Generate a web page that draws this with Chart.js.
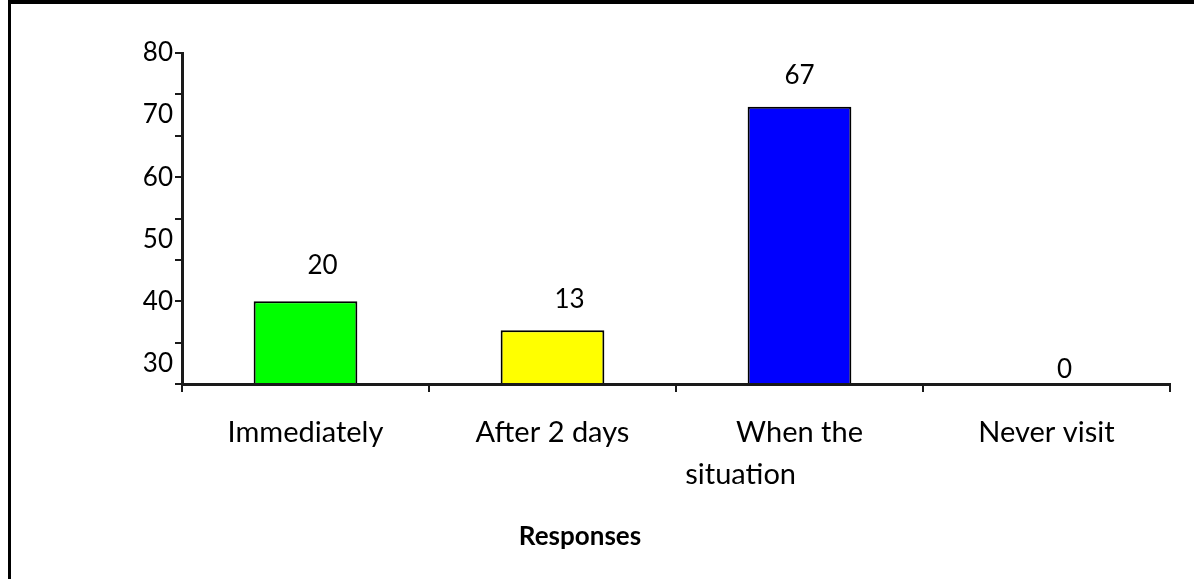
<!DOCTYPE html>
<html>
<head>
<meta charset="utf-8">
<script src="https://cdn.jsdelivr.net/npm/chart.js@4.4.1/dist/chart.umd.min.js"></script>
<style>
  html, body { margin: 0; padding: 0; background: #fff; }
  #wrap { position: absolute; left: 0; top: 0; width: 1194px; height: 579px; }
  #frame { position: absolute; left: 8px; top: 0; width: 1186px; height: 579px;
           border-top: 4px solid #000; border-left: 3px solid #000; box-sizing: border-box; pointer-events: none; }
  canvas { position: absolute; left: 0; top: 0; }
</style>
</head>
<body>
<div id="wrap">
  <canvas id="c" width="1194" height="579"></canvas>
  <div id="frame"></div>
</div>
<script>
const categories = ["Immediately", "After 2 days", ["When the", "situation" + "\u2007".repeat(7)], "Never visit"];
const values = [20, 13, 67, 0];
const barColors = ["#00ff00", "#ffff00", "#0000ff", "#ffffff"];
const yTickLabels = [30, 40, 50, 60, 70, 80];
const xTitle = "Responses";

const textFont = "Lato, 'Open Sans', sans-serif";

const dataLabelPlugin = {
  id: 'dataLabels',
  afterDatasetsDraw(chart, args, opts) {
    const ctx = chart.ctx;
    const meta = chart.getDatasetMeta(0);
    ctx.save();
    ctx.fillStyle = '#000';
    ctx.font = "26px " + textFont;
    ctx.textAlign = 'center';
    ctx.textBaseline = 'middle';
    meta.data.forEach((bar, i) => {
      const off = opts.offsets[i];
      ctx.fillText(String(values[i]), bar.x + off[0], bar.y + off[1]);
    });
    const a = chart.chartArea;
    ctx.font = "bold 26px " + textFont;
    ctx.fillText(xTitle, (a.left + a.right) / 2 - 96, 537);
    ctx.restore();
  }
};

new Chart(document.getElementById('c'), {
  type: 'bar',
  data: {
    labels: categories,
    datasets: [{
      data: values,
      backgroundColor: barColors,
      borderColor: '#000',
      borderWidth: 2,
      borderSkipped: 'bottom',
      barPercentage: 0.42,
      categoryPercentage: 1.0
    }]
  },
  options: {
    responsive: false,
    animation: false,
    devicePixelRatio: 1,
    layout: { padding: { left: 0, right: 24, top: 53, bottom: 0 } },
    plugins: {
      legend: { display: false },
      tooltip: { enabled: false },
      dataLabels: { offsets: [[17, -36], [17, -31], [0, -31], [18, -14]] }
    },
    scales: {
      x: {
        offset: true,
        grid: { display: true, drawOnChartArea: false, drawTicks: true, tickLength: 8, offset: true, color: '#1a1a1a', lineWidth: 2 },
        border: { display: true, color: '#1a1a1a', width: 3 },
        ticks: { color: '#000', font: { size: 29, family: textFont, lineHeight: 1.45 }, padding: 20, maxRotation: 0, autoSkip: false },
        afterFit(axis) { axis.height = 195; }
      },
      y: {
        position: 'left',
        weight: 0,
        min: 0, max: 80,
        ticks: { stepSize: 10, display: false },
        grid: { display: true, drawOnChartArea: false, drawTicks: true, tickLength: 7, color: '#1a1a1a', lineWidth: 2 },
        border: { display: true, color: '#1a1a1a', width: 3 },
        afterFit(axis) { axis.width = 7; }
      },
      yLabels: {
        type: 'linear',
        position: 'left',
        weight: 1,
        min: 80 - 80 / 1.5, max: 80,
        afterBuildTicks(axis) { axis.ticks = yTickLabels.map(v => ({ value: v })); },
        ticks: { color: '#000', font: { size: 26, family: textFont }, padding: 2 },
        grid: { display: false, drawTicks: false, tickLength: 0 },
        border: { display: false },
        afterFit(axis) { axis.width = 175; }
      }
    }
  },
  plugins: [dataLabelPlugin]
});
</script>
</body>
</html>
